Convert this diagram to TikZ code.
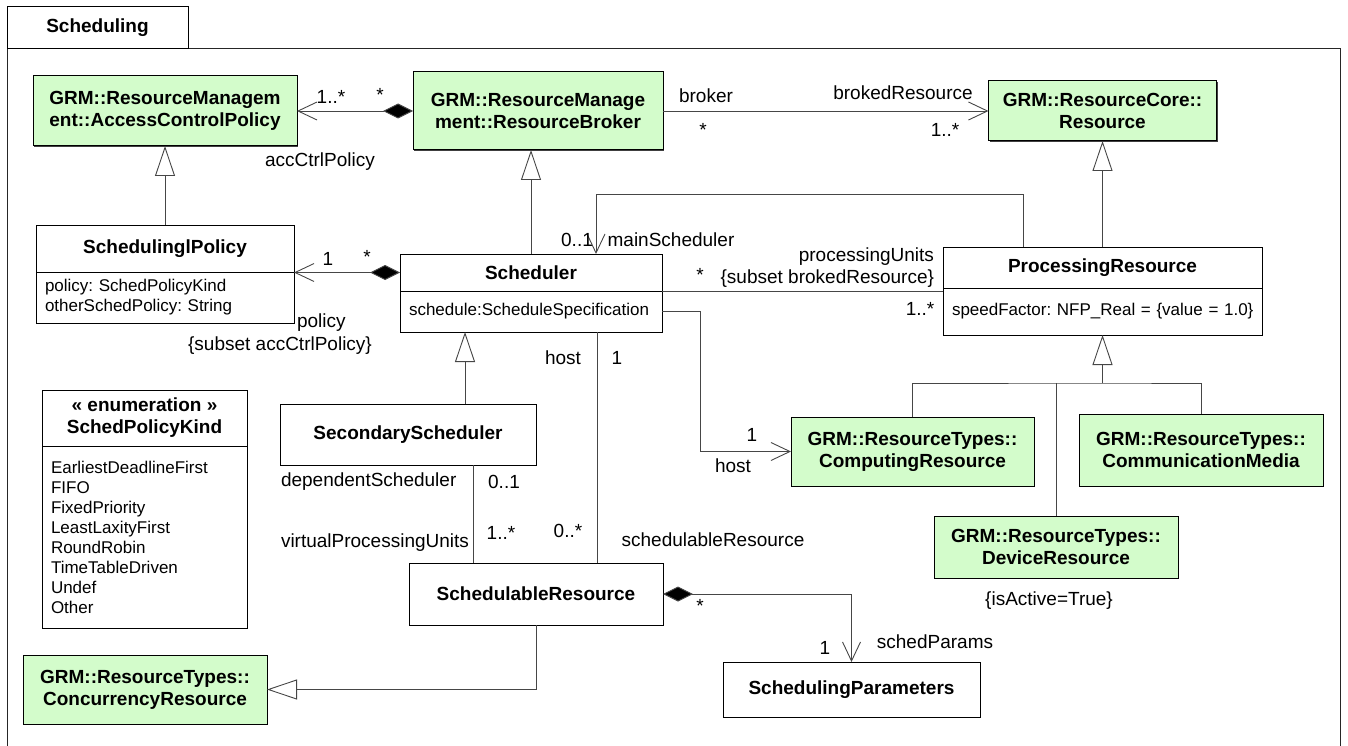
\documentclass[tikz,border=0pt]{standalone}
\usepackage{fontspec}
\setmainfont{Liberation Sans}
\usetikzlibrary{arrows.meta,shadows}
\definecolor{grm}{RGB}{211,252,203}
\definecolor{edge}{RGB}{70,70,70}
\newcommand{\clsfnt}{\fontsize{19}{22}\selectfont\bfseries}
\newcommand{\lblfnt}{\fontsize{19}{22}\selectfont}
\newcommand{\attfnt}{\fontsize{17}{20}\selectfont\frenchspacing}

\begin{document}
\begin{tikzpicture}[x=1pt,y=-1pt,
  every node/.style={align=center,inner sep=0pt,outer sep=0pt},
  tab/.style={draw,fill=white,font=\clsfnt,line width=1pt},
  cls/.style={tab,drop shadow={shadow xshift=1.2pt,shadow yshift=-1.2pt,fill=black!75,opacity=1}},
  grmcls/.style={cls,fill=grm},
  att/.style={cls,font=\attfnt,align=left,inner xsep=9pt},
  lbl/.style={font=\lblfnt},
  line/.style={draw=edge,line width=0.9pt},
  nav/.style={line,-{Straight Barb[length=19pt,width=18pt]}},
  own/.style={line,{Diamond[length=30pt,width=15pt,fill=black]}-{Straight Barb[length=19pt,width=18pt]}},
  gen/.style={line,-{Triangle[open,length=30pt,width=20pt]}}]
\useasboundingbox (0,0) rectangle (1348,746);

% package frame
\draw[line width=1pt,black!85] (7,748) -- (7,49) -- (1340,49) -- (1340,748);
\node[tab,minimum width=181,minimum height=42] (pkg) at (97.5,28) {Scheduling};

% classes
\node[grmcls,minimum width=264,minimum height=70] (acp) at (165,111) {GRM::ResourceManagem\\ent::AccessControlPolicy};
\node[grmcls,minimum width=250,minimum height=78] (brk) at (538,111) {GRM::ResourceManage\\ment::ResourceBroker};
\node[grmcls,minimum width=228,minimum height=60] (res) at (1102.5,111) {GRM::ResourceCore::\\Resource};

\node[cls,minimum width=258,minimum height=47] (spol) at (165,248.5) {SchedulinglPolicy};
\node[att,text width=240,minimum height=51,anchor=north] (spolb) at (spol.south) {policy: SchedPolicyKind\\otherSchedPolicy: String};

\node[cls,minimum width=262,minimum height=37] (sch) at (531,272.5) {Scheduler};
\node[att,text width=244,minimum height=41,anchor=north] (schb) at (sch.south) {schedule:ScheduleSpecification};

\node[cls,minimum width=319,minimum height=41] (proc) at (1102.5,267.5) {ProcessingResource};
\node[att,text width=301,minimum height=47,anchor=north] (procb) at (proc.south) {\mbox{speedFactor: NFP\_Real = \{value = 1.0\}}};

\node[cls,minimum width=205,minimum height=56] (kind) at (144.5,418) {« enumeration »\\SchedPolicyKind};
\node[att,text width=187,minimum height=182,anchor=north] (kindb) at (kind.south) {EarliestDeadlineFirst\\FIFO\\FixedPriority\\LeastLaxityFirst\\RoundRobin\\TimeTableDriven\\Undef\\Other};

\node[cls,minimum width=256,minimum height=61] (sec) at (408,434.5) {SecondaryScheduler};
\node[cls,minimum width=254,minimum height=62] (sres) at (536,594) {SchedulableResource};
\node[grmcls,minimum width=244,minimum height=69] (conc) at (145,689.5) {GRM::ResourceTypes::\\ConcurrencyResource};
\node[cls,minimum width=257,minimum height=55] (spar) at (851.5,689.5) {SchedulingParameters};

\node[grmcls,minimum width=243,minimum height=69] (cpu) at (912.5,451.5) {GRM::ResourceTypes::\\ComputingResource};
\node[grmcls,minimum width=244,minimum height=72] (media) at (1201,450) {GRM::ResourceTypes::\\CommunicationMedia};
\node[grmcls,minimum width=244,minimum height=62] (dev) at (1056,547) {GRM::ResourceTypes::\\DeviceResource};

% associations
\draw[own] (brk.west) -- (acp.east);
\draw[nav] (brk.east) -- (res.west);
\draw[own] (sch.west) -- (sch.west -| spol.east);
\draw[nav] ([xshift=-79.5]proc.north) -- ++(0,-53) -| ([xshift=65]sch.north);
\draw[line] (schb.north east) -- (schb.north east -| procb.west);
\draw[nav] (schb.east) -- ++(38,0) |- (cpu.west);
\draw[line] ([xshift=65]sec.south) -- ([xshift=65]sec.south |- sres.north);
\draw[line] ([xshift=66]schb.south) -- ([xshift=66]schb.south |- sres.north);
\draw[own] (sres.east) -| (spar.north);

% generalizations
\draw[gen] (spol.north) -- (acp.south);
\draw[gen] (sch.north) -- (sch.north |- brk.south);
\draw[gen] (proc.north) -- (res.south);
\draw[gen] ([xshift=57]sec.north) -- ([xshift=57]sec.north |- schb.south);
\draw[gen] (sres.south) |- (conc.east);
\coordinate (tree) at (1102.5,383);
\draw[line] (cpu.north) |- (tree) -| (media.north);
\draw[line] (dev.north) -- (dev.north |- tree);
\draw[gen] (tree) -- (procb.south);

% role names and multiplicities
\node[lbl] (m1) at (331,97) {1..*};
\node[lbl] (m2) at (380,95) {*};
\node[lbl] (r1) at (320,162) {accCtrlPolicy};
\node[lbl] (r2) at (706,96) {broker};
\node[lbl] (m3) at (703,130) {*};
\node[lbl] (r3) at (903,93) {brokedResource};
\node[lbl] (m4) at (945,130) {1..*};
\node[lbl] (m5) at (328,259) {1};
\node[lbl] (m6) at (367,257) {*};
\node[lbl,anchor=west] (r4) at (297,323) {policy};
\node[lbl] (r5) at (280,346) {\{subset accCtrlPolicy\}};
\node[lbl] (m7) at (577,240) {0..1};
\node[lbl] (r6) at (671,240) {mainScheduler};
\node[lbl,anchor=east] (r7) at (934,257) {processingUnits};
\node[lbl,anchor=east] (r8) at (934,279) {\{subset brokedResource\}};
\node[lbl] (m8) at (700,275) {*};
\node[lbl] (m9) at (920,309) {1..*};
\node[lbl] (r9) at (563,358) {host};
\node[lbl] (m10) at (617,358) {1};
\node[lbl] (m11) at (752,435) {1};
\node[lbl] (r10) at (733,466) {host};
\node[lbl,anchor=west] (r11) at (281,482) {dependentScheduler};
\node[lbl] (m12) at (504,482) {0..1};
\node[lbl,anchor=west] (r12) at (281,543) {virtualProcessingUnits};
\node[lbl] (m13) at (501,533) {1..*};
\node[lbl] (m14) at (568,531) {0..*};
\node[lbl] (r13) at (713,540) {schedulableResource};
\node[lbl] (m15) at (700,606) {*};
\node[lbl] (m16) at (825,648) {1};
\node[lbl] (r14) at (935,642) {schedParams};
\node[lbl] (c1) at (1049,601) {\{isActive=True\}};
\end{tikzpicture}
\end{document}
